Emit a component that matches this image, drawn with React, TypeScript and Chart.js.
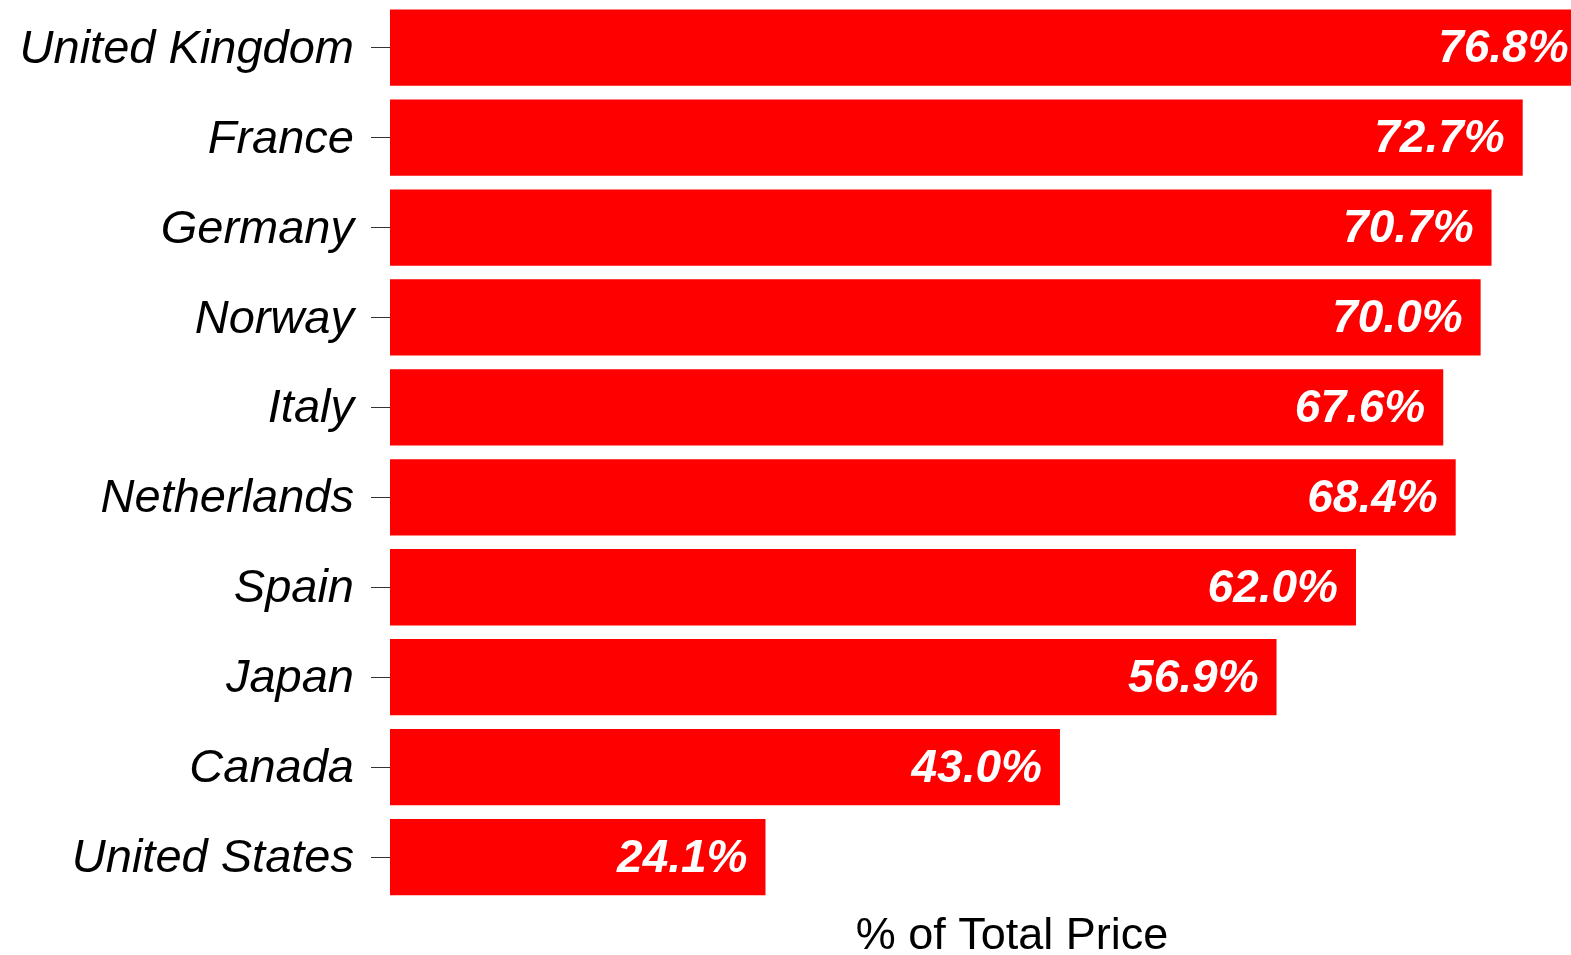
import React, { useEffect, useRef } from "react";
import { Chart, registerables } from "chart.js";

Chart.register(...registerables);

const categories = [
  "United Kingdom",
  "France",
  "Germany",
  "Norway",
  "Italy",
  "Netherlands",
  "Spain",
  "Japan",
  "Canada",
  "United States",
];
const values = [76.8, 72.7, 70.7, 70.0, 67.6, 68.4, 62.0, 56.9, 43.0, 24.1];
const xTitle = "% of Total Price";

const FONT = "'Liberation Sans', Arial, Helvetica, sans-serif";

const labelPlugin = {
  id: "valueLabels",
  afterDatasetsDraw(chart: any) {
    const ctx = chart.ctx;
    const meta = chart.getDatasetMeta(0);
    const xs = chart.scales.x;
    ctx.save();
    ctx.fillStyle = "#ffffff";
    ctx.font = `italic bold 46px ${FONT}`;
    ctx.textAlign = "right";
    ctx.textBaseline = "middle";
    meta.data.forEach((bar: any, i: number) => {
      const end = xs.getPixelForValue(values[i]);
      ctx.fillText(values[i].toFixed(1) + "%", end - 18, bar.y + 2);
    });
    ctx.restore();
  },
  afterDraw(chart: any) {
    const ctx = chart.ctx;
    ctx.save();
    ctx.fillStyle = "#000000";
    ctx.font = `45px ${FONT}`;
    ctx.textAlign = "center";
    ctx.textBaseline = "alphabetic";
    ctx.fillText(xTitle, 1012, 949);
    ctx.restore();
  },
};

export default function App() {
  const ref = useRef<HTMLCanvasElement | null>(null);
  useEffect(() => {
    if (!ref.current) return;
    const chart = new Chart(ref.current, {
      type: "bar",
      data: {
        labels: categories,
        datasets: [
          {
            data: values,
            backgroundColor: "#ff0000",
            borderWidth: 0,
            barPercentage: 0.848,
            categoryPercentage: 1,
          },
        ],
      },
      options: {
        indexAxis: "y",
        animation: false,
        responsive: false,
        maintainAspectRatio: false,
        layout: { padding: { top: 2.7, bottom: 53, left: 0, right: 0 } },
        plugins: {
          legend: { display: false },
          tooltip: { enabled: false },
          title: { display: false },
        },
        scales: {
          x: {
            display: false,
            min: 0,
            max: 75.8,
          },
          y: {
            afterFit(scale: any) {
              scale.width = 390;
              scale.paddingTop = 0;
              scale.paddingBottom = 0;
            },
            border: { display: false },
            grid: {
              display: true,
              offset: false,
              drawOnChartArea: false,
              drawTicks: true,
              tickLength: 19,
              tickColor: "#333333",
              lineWidth: 1,
            },
            ticks: {
              color: "#000000",
              padding: 17,
              labelOffset: 2,
              font: { family: FONT, size: 47, style: "italic" },
            },
          },
        },
      },
      plugins: [labelPlugin],
    });
    return () => chart.destroy();
  }, []);
  return (
    <div style={{ position: "fixed", left: 0, top: 0, width: 1571, height: 955, background: "#fff" }}>
      <canvas ref={ref} width={1571} height={955} style={{ display: "block", width: 1571, height: 955 }} />
    </div>
  );
}
